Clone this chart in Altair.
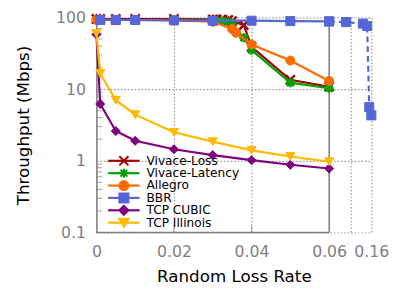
import altair as alt
import pandas as pd

# ---------------- data ----------------
names = ["Vivace-Loss", "Vivace-Latency", "Allegro", "BBR", "TCP CUBIC", "TCP Illinois"]
colors = ["#a00000", "#00a000", "#ff6a00", "#5566d6", "#800080", "#ffb900"]
X_PATH = "M-1,-1L1,1M-1,1L1,-1"
STAR_PATH = "M-1,0L1,0M0,-1L0,1M-0.75,-0.75L0.75,0.75M-0.75,0.75L0.75,-0.75"
shapes = [X_PATH, STAR_PATH, "circle", "square", "diamond", "triangle-down"]

viv_x = [0, 0.001, 0.005, 0.01, 0.02, 0.03, 0.031, 0.0325, 0.034, 0.035, 0.038, 0.04, 0.05, 0.06]
viv_loss = [95, 95, 95, 95, 95, 94, 94, 93, 92, 89, 78, 39, 13.5, 10.8]
viv_lat = [92, 92, 92, 92, 92, 91, 90, 89, 87, 82, 52, 35, 12.3, 10.3]

allegro_x = [0, 0.001, 0.005, 0.01, 0.02, 0.03, 0.035, 0.036, 0.04, 0.05, 0.06]
allegro_y = [93, 93, 92, 92, 91, 87, 69, 61, 42, 25, 13]

bbr_x = [0.001, 0.005, 0.01, 0.02, 0.03, 0.04, 0.05, 0.06]
bbr_y = [92, 92, 92, 91, 90, 90, 89, 88]
bbr_ext_x = [0.06, 0.1, 0.14, 0.15, 0.155, 0.16]
bbr_ext_y = [88, 86, 82, 76, 5.6, 4.3]

tcp_x = [0, 0.001, 0.005, 0.01, 0.02, 0.03, 0.04, 0.05, 0.06]
cubic_y = [58, 6.2, 2.6, 1.9, 1.45, 1.2, 1.02, 0.88, 0.78]
illinois_y = [60, 16.5, 7.0, 4.4, 2.5, 1.85, 1.4, 1.15, 0.97]

x_ticks = [0, 0.02, 0.04, 0.06, 0.11, 0.16]
y_ticks = [0.1, 1, 10, 100]
y_minor = [0.2, 0.3, 0.4, 0.5, 0.6, 0.7, 0.8, 0.9,
           2, 3, 4, 5, 6, 7, 8, 9,
           20, 30, 40, 50, 60, 70, 80, 90]

# ---------------- scales / axes ----------------
FONT = "DejaVu Sans"
GRAY = "#808080"
W, H = 280, 219
xscale = alt.Scale(domain=[0, 0.06, 0.16], range=[0, 237, W], nice=False, zero=False)
yscale = alt.Scale(type="log", domain=[0.1, 100], nice=False)

xaxis = alt.Axis(values=x_ticks, grid=True, gridDash=[1.5, 2], gridColor="#999999",
                 gridWidth=1.2, domain=False, ticks=False,
                 labelExpr="datum.value == 0.11 ? '' : (datum.value == 0 ? '0' : format(datum.value, '.2f'))",
                 labelFont=FONT, labelFontSize=16, labelColor=GRAY, labelPadding=11,
                 labelFlush=False, labelOverlap=False, labelBound=False,
                 title="Random Loss Rate", titleFont=FONT, titleFontSize=17,
                 titleFontWeight="normal", titleColor="black", titlePadding=10)
yaxis = alt.Axis(values=y_ticks, format="~g", grid=True, gridDash=[1.5, 2], gridColor="#999999",
                 gridWidth=1.2, domain=True, domainColor=GRAY, domainWidth=1.5, ticks=False,
                 labelFont=FONT, labelFontSize=16, labelColor=GRAY, labelPadding=11,
                 labelOverlap=False, labelFlush=False,
                 title="Throughput (Mbps)", titleFont=FONT, titleFontSize=17,
                 titleFontWeight="normal", titleColor="black", titlePadding=24)


def X(field):
    return alt.X(field, type="quantitative", scale=xscale, axis=xaxis)


def Y(field):
    return alt.Y(field, type="quantitative", scale=yscale, axis=yaxis)


# ---------------- decorations ----------------
frame = pd.DataFrame({"x": [0], "x2": [0.06], "y": [0.1], "y2": [100]})
bottom = alt.Chart(frame).mark_rule(color=GRAY, strokeWidth=1.5).encode(
    x=X("x"), x2="x2", y=Y("y"))
vline = alt.Chart(frame).mark_rule(color=GRAY, strokeWidth=1.5).encode(
    x=X("x2"), y=Y("y"), y2="y2")
minor = alt.Chart(pd.DataFrame({"v": y_minor})).mark_tick(
    color=GRAY, thickness=1, size=6).encode(x=alt.value(3), y=Y("v"))
xt = alt.Chart(pd.DataFrame({"v": [0.02, 0.04]})).mark_tick(
    color=GRAY, thickness=1, size=7).encode(x=X("v"), y=alt.value(H - 3.5))

layers = [bottom, vline, minor, xt]

# ---------------- series ----------------
series = [
    ("Vivace-Loss", viv_x, viv_loss, None),
    ("Vivace-Latency", viv_x, viv_lat, None),
    ("Allegro", allegro_x, allegro_y, None),
    ("BBR", bbr_x, bbr_y, None),
    ("BBR", bbr_ext_x, bbr_ext_y, [6, 4]),
    ("TCP CUBIC", tcp_x, cubic_y, None),
    ("TCP Illinois", tcp_x, illinois_y, None),
]

for name, xs, ys, dash in series:
    i = names.index(name)
    c = colors[i]
    df = pd.DataFrame({"x": xs, "y": ys})
    line_kw = dict(color=c, strokeWidth=2.2)
    if dash:
        line_kw["strokeDash"] = dash
    ln = alt.Chart(df).mark_line(**line_kw).encode(x=X("x"), y=Y("y"))
    is_path = shapes[i].startswith("M")
    pt = alt.Chart(df).mark_point(
        shape=shapes[i], filled=True, fill=c, stroke=c,
        strokeWidth=2.5 if is_path else 1, size=85, opacity=1
    ).encode(x=X("x"), y=Y("y"))
    layers += [ln, pt]

main = alt.layer(*layers)

# ---------------- legend ----------------
leg_df = pd.DataFrame({"name": names})
ly = alt.Y("name:N", scale=alt.Scale(type="point", domain=names, range=[146, 209], padding=0), axis=None)
cscale = alt.Scale(domain=names, range=colors)
sscale = alt.Scale(domain=names, range=shapes)
leg_rule = alt.Chart(leg_df).mark_rule(strokeWidth=2.2).encode(
    x=alt.value(12), x2=alt.value(44), y=ly,
    color=alt.Color("name:N", scale=cscale, legend=None))
leg_pt = alt.Chart(leg_df).mark_point(filled=True, size=85, opacity=1, strokeWidth=2).encode(
    x=alt.value(28), y=ly,
    color=alt.Color("name:N", scale=cscale, legend=None),
    stroke=alt.Stroke("name:N", scale=cscale, legend=None),
    shape=alt.Shape("name:N", scale=sscale, legend=None))
leg_txt = alt.Chart(leg_df).mark_text(align="left", baseline="middle", font=FONT,
                                      fontSize=12.4, color="black").encode(
    x=alt.value(51), y=ly, text="name:N")
legend = alt.layer(leg_rule, leg_pt, leg_txt)

chart = alt.layer(main, legend).resolve_scale(y="independent").properties(
    width=W, height=H,
    autosize=alt.AutoSizeParams(type="none"),
    padding={"left": 90, "top": 7, "right": 20, "bottom": 58},
).configure_view(stroke=None)

chart.save("out.html", embed_options={"renderer": "svg", "actions": False})
